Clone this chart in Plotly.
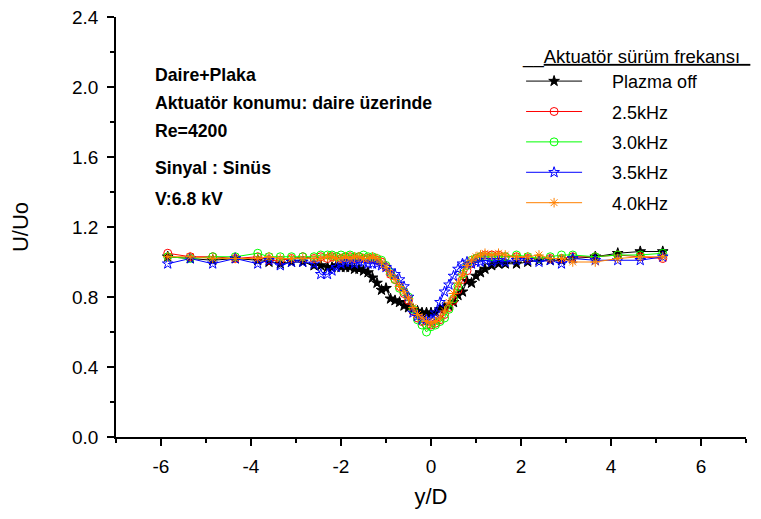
import plotly.graph_objects as go

y_over_D = [-5.85, -5.35, -4.85, -4.35, -3.85, -3.6, -3.35, -3.1, -2.85, -2.6, -2.45,
            -2.3, -2.2, -2.1, -2.0, -1.9, -1.8, -1.7, -1.6, -1.5, -1.4, -1.3, -1.2,
            -1.1, -1.0, -0.9, -0.8, -0.7, -0.6, -0.5, -0.4, -0.3, -0.2, -0.1, 0.0,
            0.1, 0.2, 0.3, 0.4, 0.5, 0.6, 0.7, 0.8, 0.9, 1.0, 1.1, 1.2,
            1.35, 1.5, 1.65, 1.9, 2.15, 2.4, 2.65, 2.9, 3.15, 3.65, 4.15, 4.65, 5.15]

plazma_off = [1.03, 1.02, 1.01, 1.02, 1.01, 1.00, 0.99, 1.00, 1.00, 0.98, 0.98,
              0.97, 0.97, 0.98, 0.97, 0.97, 0.97, 0.96, 0.96, 0.95, 0.94, 0.91, 0.88,
              0.84, 0.85, 0.79, 0.78, 0.77, 0.75, 0.74, 0.73, 0.72, 0.71, 0.71, 0.71,
              0.71, 0.73, 0.74, 0.75, 0.77, 0.81, 0.83, 0.89, 0.88, 0.92, 0.94, 0.96,
              0.98, 0.99, 0.99, 0.99, 1.00, 1.01, 1.01, 1.01, 1.02, 1.03, 1.05, 1.06, 1.06]

f_2_5 = [1.05, 1.03, 1.03, 1.02, 1.03, 1.01, 1.01, 1.02, 1.03, 1.02, 1.03,
         1.02, 1.03, 1.03, 1.02, 1.03, 1.03, 1.02, 1.03, 1.02, 1.02, 1.02, 1.01,
         1.00, 0.97, 0.93, 0.90, 0.86, 0.82, 0.78, 0.72, 0.68, 0.66, 0.64, 0.64,
         0.65, 0.67, 0.70, 0.74, 0.78, 0.84, 0.90, 0.95, 0.99, 1.02, 1.03, 1.04,
         1.04, 1.04, 1.03, 1.03, 1.02, 1.02, 1.02, 1.02, 1.03, 1.03, 1.04, 1.03, 1.02]

f_3_0 = [1.03, 1.02, 1.03, 1.03, 1.05, 1.03, 1.03, 1.03, 1.03, 1.03, 1.04,
         1.04, 1.04, 1.03, 1.04, 1.03, 1.04, 1.03, 1.03, 1.04, 1.03, 1.03, 1.02,
         1.01, 0.98, 0.94, 0.90, 0.85, 0.83, 0.80, 0.73, 0.67, 0.64, 0.60, 0.63,
         0.64, 0.66, 0.68, 0.73, 0.79, 0.86, 0.93, 0.98, 1.01, 1.02, 1.03, 1.03,
         1.03, 1.03, 1.03, 1.04, 1.03, 1.02, 1.03, 1.04, 1.04, 1.03, 1.04, 1.04, 1.05]

f_3_5 = [0.99, 1.02, 0.99, 1.02, 0.99, 1.01, 0.98, 1.00, 1.00, 0.99, 0.93,
         0.93, 0.95, 0.97, 0.99, 1.00, 1.00, 0.99, 1.00, 1.00, 0.99, 0.99, 0.99,
         0.98, 0.97, 0.95, 0.93, 0.90, 0.86, 0.80, 0.71, 0.69, 0.67, 0.67, 0.67,
         0.71, 0.77, 0.83, 0.87, 0.92, 0.96, 0.99, 1.00, 0.99, 1.00, 1.00, 1.01,
         1.00, 1.01, 1.00, 1.01, 1.01, 1.00, 1.01, 0.99, 1.02, 1.01, 1.01, 1.01, 1.03]

f_4_0 = [1.03, 1.03, 1.02, 1.02, 1.02, 1.03, 1.02, 1.02, 1.02, 1.02, 1.02,
         1.03, 1.03, 1.02, 1.02, 1.03, 1.02, 1.03, 1.03, 1.02, 1.02, 1.03, 1.02,
         1.00, 0.97, 0.93, 0.90, 0.86, 0.83, 0.79, 0.74, 0.70, 0.68, 0.66, 0.65,
         0.66, 0.68, 0.72, 0.77, 0.82, 0.88, 0.93, 0.98, 1.01, 1.03, 1.04, 1.05,
         1.04, 1.05, 1.04, 1.03, 1.03, 1.04, 1.02, 1.02, 1.00, 1.00, 1.02, 1.03, 1.03]

series_names = ["Plazma off", "2.5kHz", "3.0kHz", "3.5kHz", "4.0kHz"]
series_values = [plazma_off, f_2_5, f_3_0, f_3_5, f_4_0]
colors = ["#000000", "#FF0000", "#00FF00", "#0000FF", "#FF8000"]
symbols = ["star", "circle-open", "circle-open", "star-open", "asterisk-open"]
legend_title = "Aktuatör sürüm frekansı"

info_lines = ["Daire+Plaka", "Aktuatör konumu: daire üzerinde", "Re=4200",
              "Sinyal : Sinüs", "V:6.8 kV"]
info_y = [0.862, 0.795, 0.729, 0.640, 0.567]

FONT = "Liberation Sans, Arial, sans-serif"
PAD = "\u00a0" * 5

fig = go.Figure()
for i, (name, vals) in enumerate(zip(series_names, series_values)):
    fig.add_trace(go.Scatter(
        x=y_over_D, y=vals, name=PAD + name, mode="lines+markers",
        legendgroup=f"g{i}",
        line=dict(color=colors[i], width=1),
        marker=dict(symbol=symbols[i], size=8, color=colors[i],
                    line=dict(color=colors[i], width=1)),
    ))

for txt, yy in zip(info_lines, info_y):
    fig.add_annotation(x=0.0587, y=yy, xref="paper", yref="paper",
                       text=f"<b>{txt}</b>", showarrow=False,
                       xanchor="left", yanchor="middle",
                       font=dict(family=FONT, size=17.7, color="black"))

fig.update_layout(
    width=761, height=519,
    margin=dict(l=108, r=23, t=9, b=90),
    paper_bgcolor="white", plot_bgcolor="white",
    font=dict(family=FONT, color="black"),
    showlegend=True,
    legend=dict(
        x=0.643, y=0.948, xanchor="left", yanchor="top",
        title=dict(text="__<u>" + legend_title + "\u00a0\u00a0</u>",
                   font=dict(size=18.5, family=FONT)),
        font=dict(size=18, family=FONT),
        tracegroupgap=4, itemwidth=56,
        bgcolor="rgba(0,0,0,0)",
    ),
    xaxis=dict(
        range=[-7, 7], tickmode="array", tickvals=[-6, -4, -2, 0, 2, 4, 6],
        ticktext=["-6", "-4", "-2", "0", "2", "4", "6"],
        showline=True, linecolor="black", linewidth=1.5, mirror=False,
        ticks="outside", ticklen=7, tickwidth=1.5, tickcolor="black",
        showgrid=False, zeroline=False, automargin=False, ticklabelstandoff=4,
        ticklabeloverflow="allow",
        minor=dict(ticks="outside", ticklen=4, tickwidth=1.5, tickcolor="black",
                   tickvals=[-7, -5, -3, -1, 1, 3, 5, 7]),
        tickfont=dict(size=19, family=FONT),
        title=dict(text="y/D", font=dict(size=22, family=FONT), standoff=13),
    ),
    yaxis=dict(
        range=[0, 2.4], tickmode="array",
        tickvals=[0, 0.4, 0.8, 1.2, 1.6, 2.0, 2.4],
        ticktext=["0.0", "0.4", "0.8", "1.2", "1.6", "2.0", "2.4"],
        showline=True, linecolor="black", linewidth=1.5, mirror=False,
        ticks="outside", ticklen=7, tickwidth=1.5, tickcolor="black",
        showgrid=False, zeroline=False, automargin=False, ticklabelstandoff=5,
        ticklabeloverflow="allow",
        minor=dict(ticks="outside", ticklen=4, tickwidth=1.5, tickcolor="black",
                   tickvals=[0.2, 0.6, 1.0, 1.4, 1.8, 2.2]),
        tickfont=dict(size=19, family=FONT),
        title=dict(text="U/Uo", font=dict(size=22, family=FONT), standoff=37),
    ),
)

fig.write_html("out.html")
